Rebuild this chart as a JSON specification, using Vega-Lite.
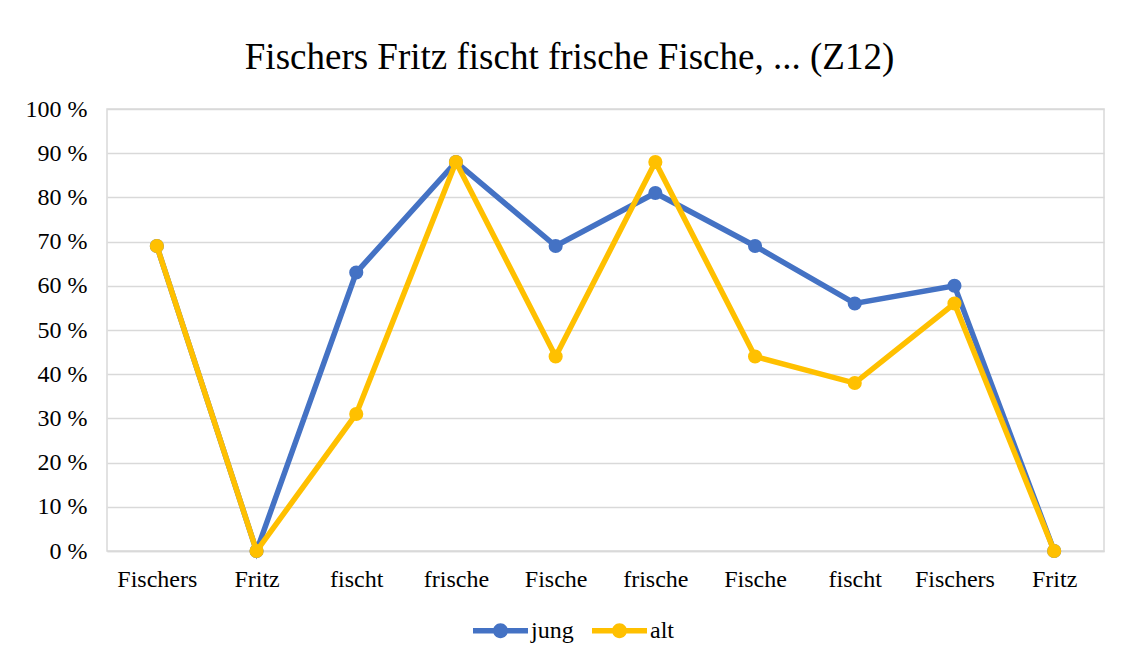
{
  "$schema": "https://vega.github.io/schema/vega-lite/v6.json",
  "width": 997,
  "height": 442,
  "autosize": {"type": "none"},
  "padding": {"left": 107, "top": 109, "right": 24, "bottom": 108},
  "background": "white",
  "title": {
    "text": "Fischers Fritz fischt frische Fische, ... (Z12)",
    "font": "Liberation Serif",
    "fontSize": 37,
    "fontWeight": "normal",
    "color": "#000000",
    "anchor": "middle",
    "frame": "group",
    "dx": -36,
    "baseline": "alphabetic",
    "offset": -9
  },
  "config": {
    "view": {"stroke": "#d9d9d9", "strokeWidth": 1.5},
    "font": "Liberation Serif"
  },
  "data": {
    "values": [
      {"idx": 1, "series": "jung", "value": 69},
      {"idx": 2, "series": "jung", "value": 0},
      {"idx": 3, "series": "jung", "value": 63},
      {"idx": 4, "series": "jung", "value": 88},
      {"idx": 5, "series": "jung", "value": 69},
      {"idx": 6, "series": "jung", "value": 81},
      {"idx": 7, "series": "jung", "value": 69},
      {"idx": 8, "series": "jung", "value": 56},
      {"idx": 9, "series": "jung", "value": 60},
      {"idx": 10, "series": "jung", "value": 0},
      {"idx": 1, "series": "alt", "value": 69},
      {"idx": 2, "series": "alt", "value": 0},
      {"idx": 3, "series": "alt", "value": 31},
      {"idx": 4, "series": "alt", "value": 88},
      {"idx": 5, "series": "alt", "value": 44},
      {"idx": 6, "series": "alt", "value": 88},
      {"idx": 7, "series": "alt", "value": 44},
      {"idx": 8, "series": "alt", "value": 38},
      {"idx": 9, "series": "alt", "value": 56},
      {"idx": 10, "series": "alt", "value": 0}
    ]
  },
  "encoding": {
    "x": {
      "field": "idx",
      "type": "ordinal",
      "scale": {"type": "point", "padding": 0.5},
      "axis": {
        "title": null,
        "labelAngle": 0,
        "labelExpr": "['Fischers','Fritz','fischt','frische','Fische','frische','Fische','fischt','Fischers','Fritz'][datum.value-1]",
        "labelFont": "Liberation Serif",
        "labelFontSize": 24,
        "labelColor": "#000000",
        "labelPadding": 16,
        "ticks": false,
        "domainColor": "#d9d9d9",
        "domainWidth": 1.5,
        "grid": false
      }
    },
    "y": {
      "field": "value",
      "type": "quantitative",
      "scale": {"domain": [0, 100], "nice": false},
      "axis": {
        "title": null,
        "values": [0, 10, 20, 30, 40, 50, 60, 70, 80, 90, 100],
        "labelExpr": "datum.value + ' %'",
        "labelFont": "Liberation Serif",
        "labelFontSize": 24,
        "labelColor": "#000000",
        "labelPadding": 20,
        "ticks": false,
        "domain": false,
        "gridColor": "#d9d9d9",
        "gridWidth": 1.5
      }
    },
    "color": {
      "field": "series",
      "type": "nominal",
      "scale": {"domain": ["jung", "alt"], "range": ["#4472C4", "#FFC000"]},
      "legend": {
        "title": null,
        "orient": "none",
        "direction": "horizontal",
        "legendX": 366,
        "legendY": 494,
        "padding": 0,
        "symbolType": "M-1,-0.1 H1 V0.1 H-1 Z M-0.27,0 A0.27,0.27 0 1,1 0.27,0 A0.27,0.27 0 1,1 -0.27,0 Z",
        "symbolSize": 3025,
        "symbolStrokeWidth": 0,
        "symbolOffset": 0,
        "labelOffset": 3,
        "columnPadding": 18,
        "labelFont": "Liberation Serif",
        "labelFontSize": 24,
        "labelColor": "#000000",
        "encode": {
          "symbols": {
            "update": {
              "fill": {"scale": "color", "field": "value"},
              "strokeWidth": {"value": 0},
              "size": {"value": 3025},
              "opacity": {"value": 1}
            }
          }
        }
      }
    }
  },
  "layer": [
    {
      "transform": [{"filter": "datum.series === 'jung'"}],
      "mark": {"type": "line", "strokeWidth": 5.5}
    },
    {
      "transform": [{"filter": "datum.series === 'jung'"}],
      "mark": {"type": "point", "filled": true, "size": 200, "opacity": 1}
    },
    {
      "transform": [{"filter": "datum.series === 'alt'"}],
      "mark": {"type": "line", "strokeWidth": 5.5}
    },
    {
      "transform": [{"filter": "datum.series === 'alt'"}],
      "mark": {"type": "point", "filled": true, "size": 200, "opacity": 1}
    }
  ]
}
